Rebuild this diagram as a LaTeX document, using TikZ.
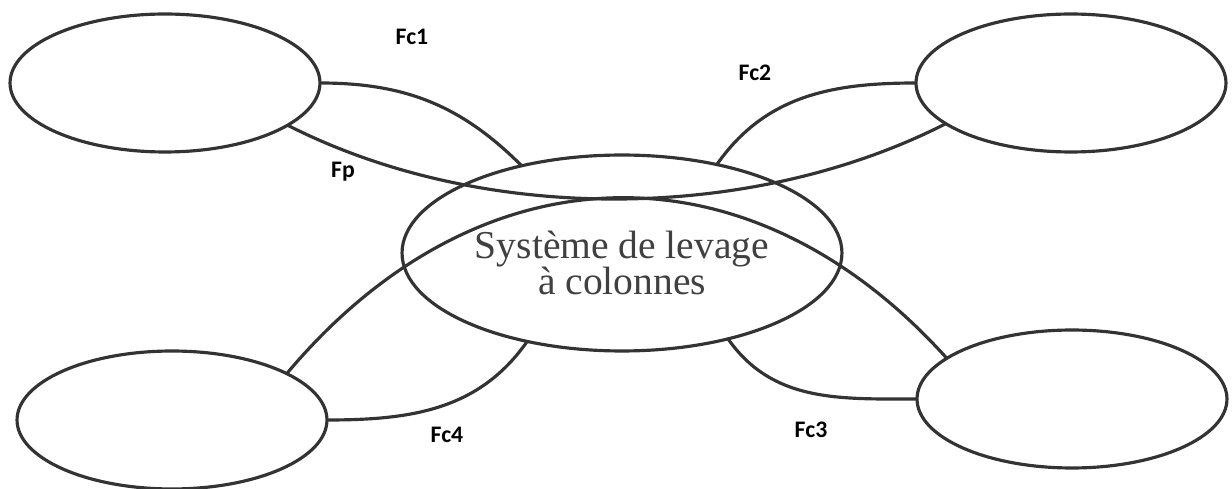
\documentclass[tikz,border=0pt]{standalone}
\usepackage{fontspec}
\setmainfont{Liberation Serif}
\newfontfamily\labelfont{Carlito}
\usetikzlibrary{shapes.geometric,positioning}

\begin{document}
\begin{tikzpicture}[x=0.02cm,y=0.02cm,
  bulle/.style={draw=black!80,line width=1.8pt,ellipse,inner sep=0pt,outer sep=0pt,
    minimum width=6.2cm,minimum height=2.76cm},
  lien/.style={draw=black!80,line width=1.8pt},
  etiq/.style={anchor=base,font=\labelfont\bfseries\fontsize{13.5}{15}\selectfont}]
  \useasboundingbox (0,0) rectangle (1232,-489);
  \node[bulle] (tl) at (165,-83) {}; \node[bulle] (tr) at (1071,-83) {};
  \node[bulle] (bl) at (172,-420) {}; \node[bulle] (br) at (1072,-399) {};
  \node[bulle,minimum width=8.8cm,minimum height=3.92cm] (mid) at (622,-253) {};
  \node[align=center,text=black!75,font=\fontsize{22.5}{21}\selectfont] (midtxt)
    at ([yshift=-0.2cm]mid.center) {Système de levage\\à colonnes};
  % fonctions
  \draw[lien] (tl.east) to[out=0,in=135] (mid.139);
  \draw[lien] (mid.43) to[out=55,in=180] (tr.west);
  \draw[lien] (bl.east) to[out=0,in=-125] (mid.-137);
  \draw[lien] (mid.-39) to[out=-55,in=180] (br.west);
  \draw[lien] (tl.-19) to[out=-27,in=-153,looseness=0.85] (tr.-162);
  \draw[lien] (bl.22) to[out=50,in=132,looseness=1.15] (br.162);
  \node[etiq] (fc1) at (412,-45) {Fc1};
  \node[etiq] (fc2) at (755,-81) {Fc2};
  \node[etiq] (fp) at (343,-178) {Fp};
  \node[etiq] (fc4) at (447,-443) {Fc4};
  \node[etiq] (fc3) at (811,-438) {Fc3};
\end{tikzpicture}
\end{document}
